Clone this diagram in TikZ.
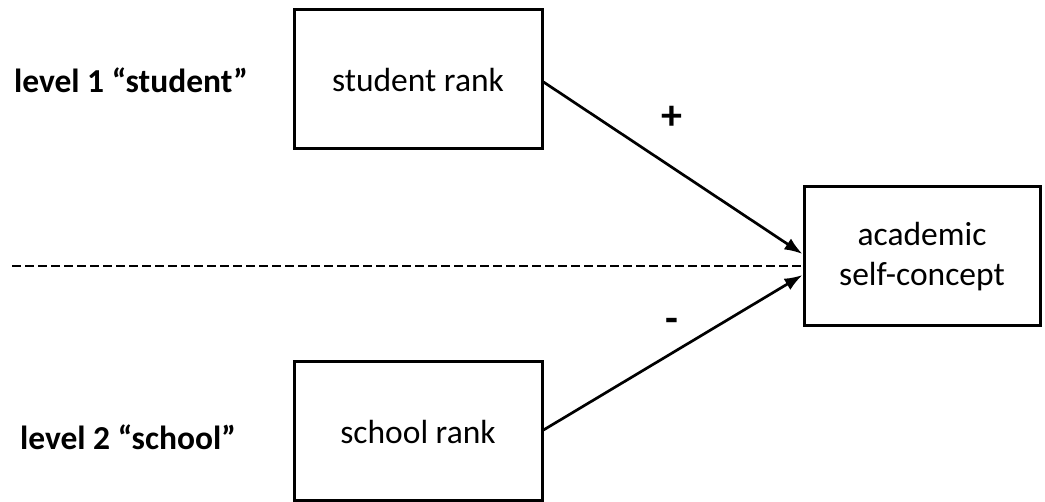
\documentclass[tikz,border=0pt]{standalone}
\usepackage{fontspec}
\setmainfont{Carlito}
\usetikzlibrary{arrows.meta}
\begin{document}
\begin{tikzpicture}[x=1pt,y=-1pt,
  box/.style={draw=black,line width=3pt,minimum width=248pt,minimum height=139pt,inner sep=0pt,align=center,font=\fontsize{33.5}{40}\selectfont},
  lvl/.style={font=\fontsize{33.5}{40}\selectfont\bfseries,inner sep=0pt},
  sign/.style={font=\fontsize{42}{48}\selectfont\bfseries,inner sep=0pt},
  conn/.style={line width=2.7pt,-{Latex[length=18pt,width=13pt]}},
  divider/.style={line width=2.2pt,dash pattern=on 9pt off 4pt}]
\useasboundingbox (0,0) rectangle (1045,502);
\node[box] (s) at (418,79.5) {student rank};
\node[box] (c) at (418,431.5) {school rank};
\node[box,minimum width=236pt] (a) at (922,256.5) {academic\\self-concept};
\node[lvl] (l1) at (131,80) {level 1 “student”};
\node[lvl] (l2) at (128,437) {level 2 “school”};
\node[sign] (plus) at (672,118) {+};
\node[sign] (minus) at (672,325) {-};
\coordinate (dstart) at (12,266);
\draw[divider] (dstart) -- ([yshift=-9.5pt]a.west);
\draw[conn] ([yshift=-2.5pt]s.east) -- ([yshift=2.5pt]a.west);
\draw[conn] ([yshift=1.5pt]c.east) -- ([yshift=-18.5pt]a.west);
\end{tikzpicture}
\end{document}
